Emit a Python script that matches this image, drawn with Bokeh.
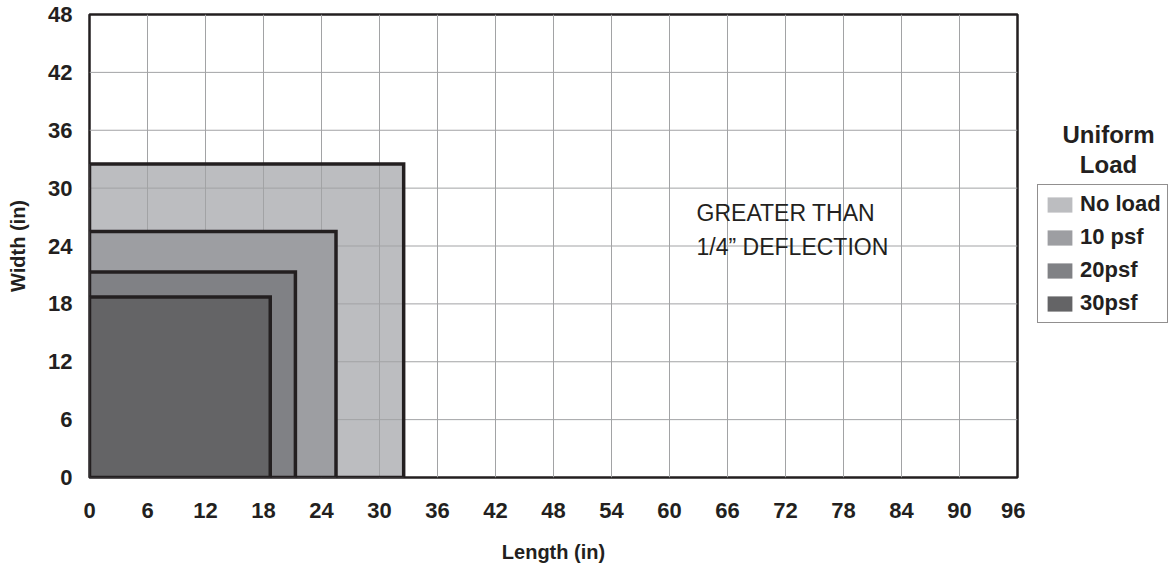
from bokeh.plotting import figure
from bokeh.layouts import row
from bokeh.models import Range1d, FixedTicker, Legend, LegendItem, Label
from bokeh.embed import file_html
from bokeh.resources import INLINE

# ---- data ----
load_cases = ["No load", "10 psf", "20psf", "30psf"]
max_length = [32.5, 25.5, 21.3, 18.7]   # inches
max_width = [32.5, 25.5, 21.3, 18.7]    # inches
fill_colors = ["#bcbdc0", "#9d9ea2", "#808185", "#646466"]
x_ticks = [0, 6, 12, 18, 24, 30, 36, 42, 48, 54, 60, 66, 72, 78, 84, 90, 96]
y_ticks = [0, 6, 12, 18, 24, 30, 36, 42, 48]
annotation_lines = ["GREATER THAN", "1/4\u201d DEFLECTION"]
legend_title_lines = ["Uniform", "Load"]

DARK = "#231f20"
GRID = "#a2a3a5"
FONT = "Liberation Sans"
FW, FH = 928, 463
TOP, BOTTOM = 14, 84
H = TOP + FH + BOTTOM

p = figure(
    frame_width=FW, frame_height=FH,
    width=89 + FW + 8, height=H,
    min_border_left=89, min_border_right=8, min_border_top=TOP, min_border_bottom=BOTTOM,
    x_range=Range1d(x_ticks[0], x_ticks[-1]),
    y_range=Range1d(y_ticks[0], y_ticks[-1]),
    output_backend="svg", toolbar_location=None,
    background_fill_color="white", border_fill_color="white",
)
p.outline_line_color = DARK
p.outline_line_width = 2.5
p.xgrid.visible = False
p.ygrid.visible = False

for ax, ticks in ((p.xaxis, x_ticks), (p.yaxis, y_ticks)):
    ax.ticker = FixedTicker(ticks=ticks)
    ax.axis_line_color = None
    ax.major_tick_line_color = None
    ax.minor_tick_line_color = None
    ax.major_tick_out = 0
    ax.major_tick_in = 0
    ax.minor_tick_out = 0
    ax.minor_tick_in = 0
    ax.major_label_text_font = FONT
    ax.major_label_text_font_style = "bold"
    ax.major_label_text_font_size = "22px"
    ax.major_label_text_color = DARK
    ax.axis_label_text_font = FONT
    ax.axis_label_text_font_style = "bold"
    ax.axis_label_text_font_size = "20px"
    ax.axis_label_text_color = DARK

p.xaxis.axis_label = "Length (in)"
p.yaxis.axis_label = "Width (in)"
p.xaxis.major_label_standoff = 25
p.xaxis.axis_label_standoff = 20
p.yaxis.major_label_standoff = 17
p.yaxis.axis_label_standoff = 16

# No-load region, then grid lines (visible through it), then outlines
p.quad(left=[0], right=[max_length[0]], bottom=[0], top=[max_width[0]],
       fill_color=fill_colors[0], line_color=None)
inner_x = x_ticks[1:-1]
inner_y = y_ticks[1:-1]
p.segment(x0=inner_x, y0=[y_ticks[0]] * len(inner_x), x1=inner_x, y1=[y_ticks[-1]] * len(inner_x),
          line_color=GRID, line_width=1)
p.segment(x0=[x_ticks[0]] * len(inner_y), y0=inner_y, x1=[x_ticks[-1]] * len(inner_y), y1=inner_y,
          line_color=GRID, line_width=1)
p.quad(left=[0], right=[max_length[0]], bottom=[0], top=[max_width[0]],
       fill_color=None, line_color=DARK, line_width=3.5, line_join="miter")
for i in range(1, len(load_cases)):
    p.quad(left=[0], right=[max_length[i]], bottom=[0], top=[max_width[i]],
           fill_color=fill_colors[i], line_color=DARK, line_width=3.5, line_join="miter")

# annotation
for txt, yb in zip(annotation_lines, [27.4, 23.85]):
    p.add_layout(Label(x=62.8, y=yb, text=txt, text_font=FONT, text_font_size="23px",
                       text_color=DARK, text_baseline="alphabetic", text_align="left"))

# ---- legend panel ----
SW = 150
side = figure(frame_width=SW, frame_height=FH, width=SW, height=H,
              x_range=Range1d(0, 1), y_range=Range1d(0, 1),
              output_backend="svg", toolbar_location=None,
              min_border_left=0, min_border_right=0, min_border_top=TOP, min_border_bottom=BOTTOM,
              x_axis_location=None, y_axis_location=None,
              outline_line_color=None, background_fill_color="white", border_fill_color="white")
side.xgrid.visible = False
side.ygrid.visible = False
swatches = []
for i, c in enumerate(fill_colors):
    r = side.quad(left=[0], right=[max_length[i]], bottom=[0], top=[max_width[i]],
                  fill_color=c, line_color=None)
    r.visible = False
    swatches.append(r)

legend = Legend(
    items=[LegendItem(label=lab, renderers=[r]) for lab, r in zip(load_cases, swatches)],
    location=(12, 154),
    glyph_width=31, glyph_height=19,
    label_text_font=FONT, label_text_font_style="bold", label_text_font_size="22px",
    label_text_color=DARK, label_standoff=5,
    spacing=7, padding=6, margin=0,
    border_line_color=DARK, border_line_width=1,
    background_fill_color="white", background_fill_alpha=1.0,
    click_policy="none",
)
side.add_layout(legend)

for txt, yb in zip(legend_title_lines, [343, 313]):
    side.add_layout(Label(x=83, y=yb, x_units="screen", y_units="screen", text=txt,
                          text_font=FONT, text_font_style="bold", text_font_size="24px",
                          text_color=DARK, text_align="center", text_baseline="alphabetic"))

layout = row(p, side)
open("out.html", "w").write(file_html(layout, INLINE))
